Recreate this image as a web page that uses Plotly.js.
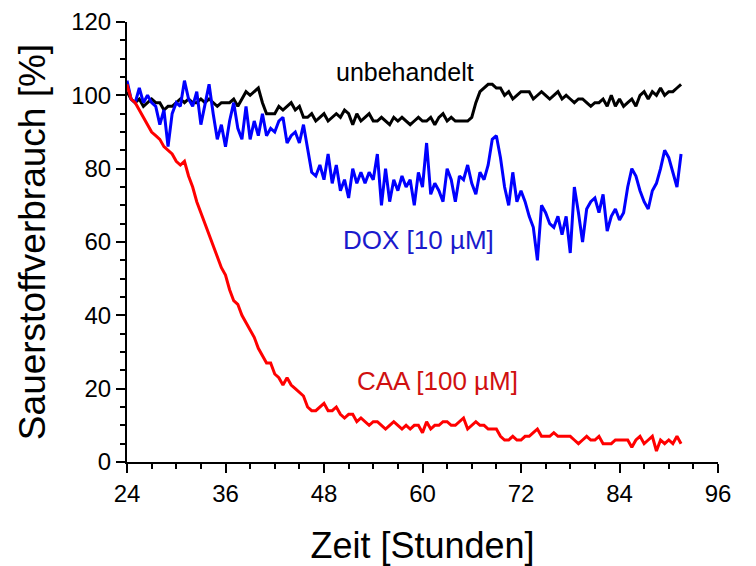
<!DOCTYPE html>
<html>
<head>
<meta charset="utf-8">
<script src="https://cdn.plot.ly/plotly-3.0.1.min.js"></script>
<style>html,body{margin:0;padding:0;background:#fff;}#chart{width:756px;height:566px;}</style>
</head>
<body>
<div id="chart"></div>
<script>
// Time axis (hours)
const zeit = [24,24.5,25,25.5,26,26.5,27,27.5,28,28.5,29,29.5,30,30.5,31,31.5,32,32.5,33,33.5,34,34.5,35,35.5,36,36.5,37,37.5,38,38.5,39,39.5,40,40.5,41,41.5,42,42.5,43,43.5,44,44.5,45,45.5,46,46.5,47,47.5,48,48.5,49,49.5,50,50.5,51,51.5,52,52.5,53,53.5,54,54.5,55,55.5,56,56.5,57,57.5,58,58.5,59,59.5,60,60.5,61,61.5,62,62.5,63,63.5,64,64.5,65,65.5,66,66.5,67,67.5,68,68.5,69,69.5,70,70.5,71,71.5,72,72.5,73,73.5,74,74.5,75,75.5,76,76.5,77,77.5,78,78.5,79,79.5,80,80.5,81,81.5,82,82.5,83,83.5,84,84.5,85,85.5,86,86.5,87,87.5,88,88.5,89,89.5,90,90.5,91,91.5];

// unbehandelt (black)
const unbehandelt = [101,99,98,99,97,98,99,98,98,96,97,97,98,99,98,99,98,98,99,98,99,98,97,98,98,98,99,97,99,101,100,101,102,98,95,95,95,97,96,97,98,96,97,94,94,95,93,94,95,93,94,95,94,96,95,92,95,93,94,95,93,93,94,93,92,94,93,94,93,92,93,94,93,93,94,92,94,95,93,94,93,93,93,93,94,98,101,102,103,103,102,102,100,101,99,100,101,101,101,99,100,101,100,99,100,101,99,100,99,98,99,99,98,97,98,98,99,97,100,97,99,97,98,99,97,100,101,99,101,100,102,100,101,101,102,103];

// DOX [10 µM] (blue)
const dox = [104,99,98,102,98,100,98,97,92,96,86,95,98,97,104,99,97,101,92,98,103,95,88,92,86,93,98,91,88,97,88,93,89,95,89,91,90,93,94,87,89,90,87,92,85,79,78,81,77,84,76,81,74,77,72,80,76,79,76,79,77,84,70,80,71,77,74,78,75,77,70,79,75,87,73,76,74,71,80,77,71,78,77,81,76,73,79,77,81,88,89,83,75,70,79,71,74,71,67,64,55,70,68,65,64,67,62,67,57,75,68,60,69,71,72,68,73,63,67,69,66,68,75,80,78,74,71,69,74,76,80,85,83,79,75,84];

// CAA [100 µM] (red)
const caa = [103,99,98,96,94,92,90,89,88,86,85,84,82,81,82,78,75,71,68,65,62,59,56,53,51,47,44,43,40,38,36,34,31,29,27,27,24,23,21,23,21,20,19,18,15,14,14,15,16,14,14,15,13,12,13,13,11,12,11,10,11,11,10,9,10,11,10,9,10,9,10,10,8,11,9,10,10,11,11,10,10,11,12,9,10,11,10,10,9,9,9,7,6,6,7,6,6,7,7,8,9,7,7,7,8,7,7,7,7,6,5,6,7,6,6,7,5,5,5,6,6,6,6,4,6,7,5,6,7,3,6,5,6,5,7,5];

const xTicks = [24,36,48,60,72,84,96];
const yTicks = [0,20,40,60,80,100,120];

const FONT = '"Liberation Sans", Arial, sans-serif';

const traces = [
  {x: zeit, y: unbehandelt, name: 'unbehandelt', mode: 'lines', line: {color: '#000000', width: 3}},
  {x: zeit, y: dox, name: 'DOX [10 µM]', mode: 'lines', line: {color: '#0000ff', width: 3}},
  {x: zeit, y: caa, name: 'CAA [100 µM]', mode: 'lines', line: {color: '#ff0000', width: 3}}
];

const axisCommon = {
  showgrid: false, zeroline: false, showline: true, linecolor: '#000', linewidth: 2,
  ticks: 'outside', ticklen: 9, tickwidth: 2, tickcolor: '#000',
  tickfont: {family: FONT, size: 24, color: '#000'}
};

const layout = {
  width: 756, height: 566,
  margin: {l: 127, r: 38, t: 22, b: 104},
  paper_bgcolor: '#fff', plot_bgcolor: '#fff',
  showlegend: false,
  font: {family: FONT},
  xaxis: Object.assign({}, axisCommon, {
    range: [24, 96], tickmode: 'array', tickvals: xTicks, ticktext: xTicks.map(String),
    minor: {dtick: 3, tick0: 24, ticks: 'outside', ticklen: 5, tickwidth: 2, tickcolor: '#000'},
    title: {text: 'Zeit [Stunden]', font: {family: FONT, size: 36, color: '#000'}, standoff: 30}
  }),
  yaxis: Object.assign({}, axisCommon, {
    range: [0, 120], tickmode: 'array', tickvals: yTicks, ticktext: yTicks.map(String),
    minor: {dtick: 5, tick0: 0, ticks: 'outside', ticklen: 5, tickwidth: 2, tickcolor: '#000'},
    title: {text: 'Sauerstoffverbrauch [%]', font: {family: FONT, size: 37, color: '#000'}, standoff: 14}
  }),
  annotations: [
    {x: 57.9, y: 106.4, xref: 'x', yref: 'y', text: 'unbehandelt', showarrow: false, font: {family: FONT, size: 25, color: '#000'}},
    {x: 59.5, y: 60.5, xref: 'x', yref: 'y', text: 'DOX [10 µM]', showarrow: false, font: {family: FONT, size: 26, color: '#1a1acc'}},
    {x: 61.8, y: 22, xref: 'x', yref: 'y', text: 'CAA [100 µM]', showarrow: false, font: {family: FONT, size: 26, color: '#d01010'}}
  ]
};

Plotly.newPlot('chart', traces, layout, {staticPlot: true, displayModeBar: false});
</script>
</body>
</html>
